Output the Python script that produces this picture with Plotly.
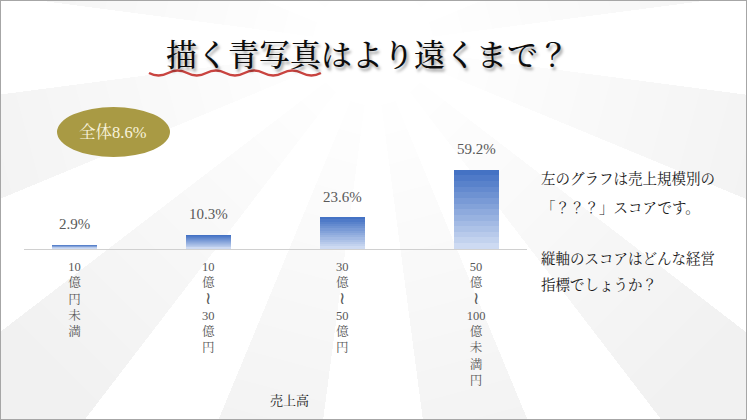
import math
import plotly.graph_objects as go

W, H = 747, 420

# Data
categories = ["10億円未満", "10億～30億円", "30億～50億円", "50億～100億未満円"]
scores = [2.9, 10.3, 23.6, 59.2]
overall_label = "全体8.6%"
title_text = "描く青写真はより遠くまで？"
x_title = "売上高"
note_lines = [
    "左のグラフは売上規模別の",
    "「？？？」スコアです。",
    "縦軸のスコアはどんな経営",
    "指標でしょうか？",
]

SERIF = "Liberation Serif, Noto Serif CJK JP, Noto Sans CJK JP"


def px_x(x):
    return x / W


def px_y(y):
    return 1 - y / H


def vertical(label):
    # crude tategaki: one char per line, digit groups kept together
    tokens = []
    for ch in label:
        if ch.isdigit() and tokens and tokens[-1].isdigit():
            tokens[-1] += ch
        elif ch == "～":
            tokens.append('<span style="font-size:17px">≀</span>')
        else:
            tokens.append(ch)
    return "<br>".join(tokens)


fig = go.Figure()

# gradient bars: overlay of shrinking bars, dark on top -> light at bottom
steps = 14
top_rgb = (68, 114, 196)
bot_rgb = (205, 218, 242)
for j in range(steps):
    t = j / (steps - 1)
    rgb = tuple(round(a + (b - a) * t) for a, b in zip(top_rgb, bot_rgb))
    fig.add_trace(go.Bar(
        x=categories,
        y=[v * (steps - j) / steps for v in scores],
        width=0.336,
        marker=dict(color="rgb(%d,%d,%d)" % rgb, line=dict(width=0)),
        hoverinfo="skip",
        showlegend=False,
    ))

# value labels
for c, v in zip(categories, scores):
    fig.add_annotation(
        x=c, y=v, text=f"{v}%", showarrow=False, xanchor="center", yanchor="bottom", yshift=11,
        font=dict(family=SERIF, size=15, color="#595959"),
    )

shapes = []

# sunburst background: soft rays that get darker away from the centre
cx, cy, R = 373, 45, 1400
for r_in in range(60, 460, 30):
    for k in range(0, 24, 2):
        a0 = math.radians(k * 15 + 7.5)
        a1 = math.radians(k * 15 + 22.5)
        path = "M {},{} L {},{} L {},{} L {},{} Z".format(
            px_x(cx + r_in * math.cos(a0)), px_y(cy + r_in * math.sin(a0)),
            px_x(cx + R * math.cos(a0)), px_y(cy + R * math.sin(a0)),
            px_x(cx + R * math.cos(a1)), px_y(cy + R * math.sin(a1)),
            px_x(cx + r_in * math.cos(a1)), px_y(cy + r_in * math.sin(a1)),
        )
        shapes.append(dict(type="path", path=path, xref="paper", yref="paper",
                           fillcolor="rgba(0,0,0,0.0048)", line=dict(width=0), layer="below"))

# red wavy underline below the first five title characters
x0, yb, half = 149, 73, 19.1
wave = "M {},{}".format(px_x(x0), px_y(yb))
for i in range(9):
    dy = 5 if i % 2 == 0 else -5
    wave += " Q {},{} {},{}".format(px_x(x0 + half * i + half / 2), px_y(yb + dy),
                                    px_x(x0 + half * (i + 1)), px_y(yb))
shapes.append(dict(type="path", path=wave, xref="paper", yref="paper",
                   line=dict(color="#C94440", width=2.5)))

# olive ellipse
shapes.append(dict(type="circle", xref="paper", yref="paper",
                   x0=px_x(57), x1=px_x(170), y0=px_y(157), y1=px_y(107),
                   fillcolor="#A99A44", line=dict(width=0)))

# slide border
shapes.append(dict(type="rect", xref="paper", yref="paper", x0=0, x1=1, y0=0, y1=1,
                   line=dict(color="#A6A6A6", width=2)))

fig.add_annotation(x=px_x(113), y=px_y(132), xref="paper", yref="paper", text=overall_label,
                   xanchor="center", yanchor="middle", showarrow=False,
                   font=dict(family=SERIF, size=16.5, color="#F8F3DC"))

fig.add_annotation(x=px_x(367), y=px_y(52), xref="paper", yref="paper", text=title_text,
                   xanchor="center", yanchor="middle", showarrow=False,
                   font=dict(family="Noto Serif CJK JP, Noto Sans CJK JP", size=31, color="#0D0D0D",
                             weight=500, shadow="2px 3px 3px rgba(0,0,0,0.35)"))

fig.add_annotation(x=px_x(289), y=px_y(400), xref="paper", yref="paper", text=x_title,
                   xanchor="center", yanchor="middle", showarrow=False,
                   font=dict(family=SERIF, size=13, color="#222222"))

for line, yy in zip(note_lines, [178, 208, 258, 285]):
    fig.add_annotation(x=px_x(539), y=px_y(yy), xref="paper", yref="paper", text=line,
                       xanchor="left", yanchor="middle", showarrow=False,
                       font=dict(family=SERIF, size=14.5, color="#1A1A1A"))

fig.update_layout(
    width=W,
    height=H,
    margin=dict(l=0, r=0, t=0, b=0, autoexpand=False),
    paper_bgcolor="white",
    plot_bgcolor="rgba(0,0,0,0)",
    barmode="overlay",
    bargap=0,
    shapes=shapes,
    showlegend=False,
    xaxis=dict(
        type="category",
        domain=[px_x(24), px_x(527)],
        range=[-0.377, 3.38],
        tickvals=categories,
        ticktext=[vertical(c) for c in categories],
        tickfont=dict(family=SERIF, size=12.5, color="#595959"),
        ticklabelstandoff=6,
        showline=True,
        linecolor="#D0D0D0",
        linewidth=1,
        showgrid=False,
        ticks="",
        automargin=False,
        fixedrange=True,
    ),
    yaxis=dict(
        domain=[px_y(249), px_y(142.3)],
        range=[0, 80],
        visible=False,
        automargin=False,
        fixedrange=True,
    ),
)

# drop the default 8px body margin so the figure fills the window
fig.write_html("out.html", config={"displayModeBar": False},
               post_script="document.body.style.margin='0';document.body.style.overflow='hidden';")
